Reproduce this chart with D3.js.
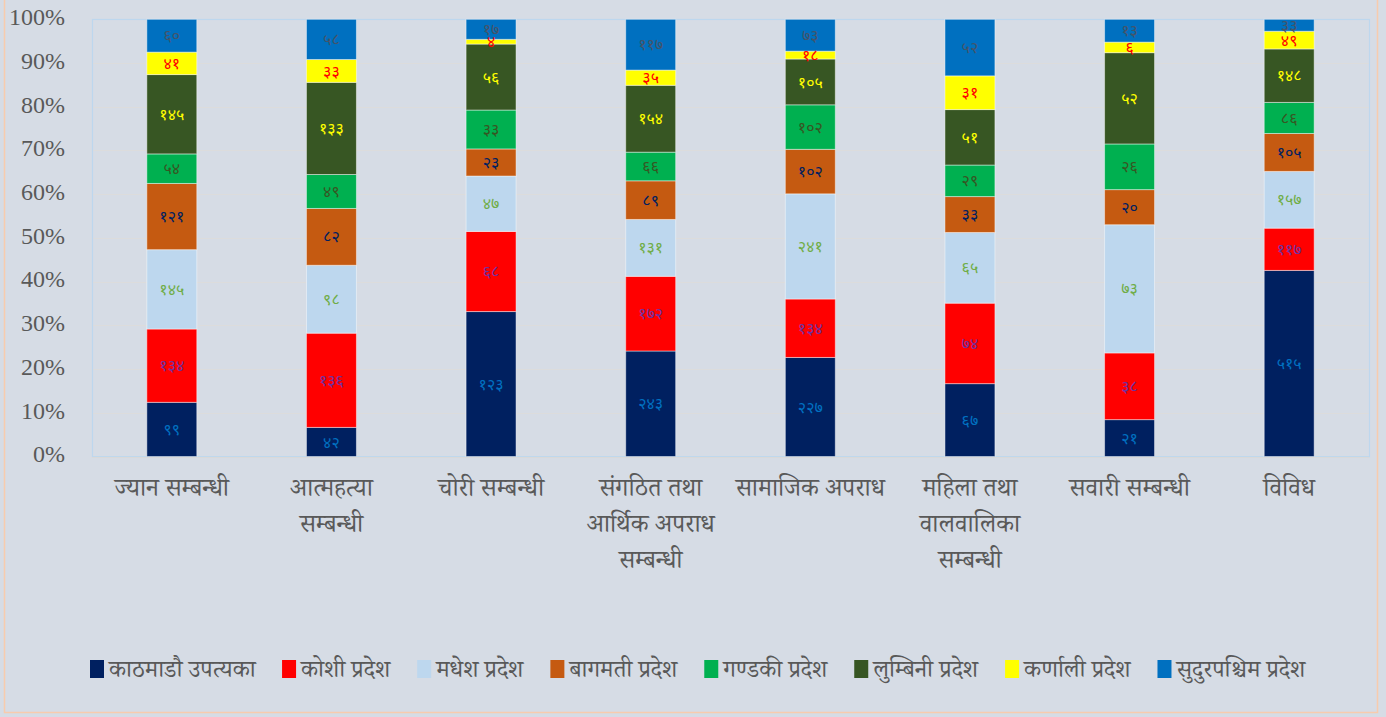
<!DOCTYPE html>
<html>
<head>
<meta charset="utf-8">
<script src="https://cdn.jsdelivr.net/npm/d3@7"></script>
<style>
  html, body { margin: 0; padding: 0; background: #D6DCE5; }
  svg { display: block; }
</style>
</head>
<body>
<svg id="chart" width="1386" height="717"></svg>
<script>
// ---- Data ----
const categories = ["ज्यान सम्बन्धी", "आत्महत्या सम्बन्धी", "चोरी सम्बन्धी", "संगठित तथा आर्थिक अपराध सम्बन्धी", "सामाजिक अपराध", "महिला तथा वालवालिका सम्बन्धी", "सवारी सम्बन्धी", "विविध"];
const categoryLines = [["ज्यान सम्बन्धी"], ["आत्महत्या", "सम्बन्धी"], ["चोरी सम्बन्धी"], ["संगठित तथा", "आर्थिक अपराध", "सम्बन्धी"], ["सामाजिक अपराध"], ["महिला तथा", "वालवालिका", "सम्बन्धी"], ["सवारी सम्बन्धी"], ["विविध"]];
const seriesNames = ["काठमाडौ उपत्यका", "कोशी प्रदेश", "मधेश प्रदेश", "बागमती प्रदेश", "गण्डकी प्रदेश", "लुम्बिनी प्रदेश", "कर्णाली प्रदेश", "सुदुरपश्चिम प्रदेश"];
const kathmandu    = [99, 42, 123, 243, 227, 67, 21, 515];
const koshi        = [134, 136, 68, 172, 134, 74, 38, 117];
const madhesh      = [145, 98, 47, 131, 241, 65, 73, 157];
const bagmati      = [121, 82, 23, 89, 102, 33, 20, 105];
const gandaki      = [54, 49, 33, 66, 102, 29, 26, 86];
const lumbini      = [145, 133, 56, 154, 105, 51, 52, 148];
const karnali      = [41, 33, 4, 35, 18, 31, 6, 49];
const sudurpaschim = [60, 58, 17, 117, 73, 52, 13, 33];
const yTicks = [0, 0.1, 0.2, 0.3, 0.4, 0.5, 0.6, 0.7, 0.8, 0.9, 1.0];

const seriesValues = [kathmandu, koshi, madhesh, bagmati, gandaki, lumbini, karnali, sudurpaschim];
const fillColors  = ["#002060", "#FF0000", "#BDD7EE", "#C55A11", "#00B050", "#375623", "#FFFF00", "#0070C0"];
const labelColors = ["#0070C0", "#7030A0", "#70AD47", "#002060", "#375623", "#FFFF00", "#FF0000", "#44546A"];

const devFont = "'Noto Serif Devanagari', 'Noto Sans Devanagari', 'Lohit Devanagari', 'Noto Sans', sans-serif";
const numFont = "'Noto Sans Devanagari', 'Lohit Devanagari', 'Noto Sans', sans-serif";

// ---- Build table ----
const rows = categories.map((c, i) => {
  const r = { cat: c };
  seriesNames.forEach((s, j) => r[s] = seriesValues[j][i]);
  return r;
});
const stack = d3.stack().keys(seriesNames).offset(d3.stackOffsetExpand);
const stacked = stack(rows);

const svg = d3.select("#chart");
const W = 1386, H = 717;

// background + frame
svg.append("rect").attr("x", 0).attr("y", 0).attr("width", W).attr("height", H).attr("fill", "#D6DCE5");
svg.append("rect").attr("x", 4.5).attr("y", -2).attr("width", 1373).attr("height", 714.5)
  .attr("fill", "none").attr("stroke", "#F8CBAD").attr("stroke-width", 1.5);

const plot = { left: 92, right: 1369, top: 19.3, bottom: 456.5 };

const x = d3.scaleBand().domain(categories).range([plot.left, plot.right])
  .paddingInner(0.687).paddingOuter(0.3435);
const y = d3.scaleLinear().domain([0, 1]).range([plot.bottom, plot.top]);

// gridlines
svg.append("g").selectAll("line").data(yTicks.filter(t => t > 0 && t < 1)).join("line")
  .attr("x1", plot.left).attr("x2", plot.right)
  .attr("y1", d => Math.round(y(d)) + 0.5).attr("y2", d => Math.round(y(d)) + 0.5)
  .attr("stroke", "#DCDCDC").attr("stroke-width", 1.2);

// plot border
svg.append("rect").attr("x", plot.left + 0.5).attr("y", Math.round(plot.top) + 0.5)
  .attr("width", plot.right - plot.left).attr("height", plot.bottom - plot.top)
  .attr("fill", "none").attr("stroke", "#BDD7EE").attr("stroke-width", 1.2);
svg.append("line").attr("x1", plot.left).attr("x2", plot.right)
  .attr("y1", Math.round(plot.bottom) + 0.5).attr("y2", Math.round(plot.bottom) + 0.5)
  .attr("stroke", "#D9D9D9").attr("stroke-width", 1.2);

// y axis
const yAxis = d3.axisLeft(y).tickValues(yTicks).tickFormat(d3.format(".0%")).tickSize(0).tickPadding(0);
const yg = svg.append("g").attr("transform", `translate(65,0)`).call(yAxis);
yg.select(".domain").remove();
yg.selectAll("text").attr("font-family", "'Liberation Serif', 'Times New Roman', serif")
  .attr("font-size", 24).attr("fill", "#595959").attr("dy", "0.22em").attr("dx", 0);

// bars
const layers = svg.append("g").selectAll("g").data(stacked).join("g")
  .attr("fill", (d, i) => fillColors[i]);
layers.selectAll("rect").data(d => d).join("rect")
  .attr("x", d => x(d.data.cat))
  .attr("width", x.bandwidth())
  .attr("y", d => y(d[1]))
  .attr("height", d => y(d[0]) - y(d[1]))
  .attr("stroke", "rgba(255,255,255,0.45)")
  .attr("stroke-width", 1);

// value labels
const toDev = n => String(n).replace(/[0-9]/g, c => "०१२३४५६७८९"[+c]);
const lab = svg.append("g").selectAll("g").data(stacked).join("g")
  .attr("fill", (d, i) => labelColors[i]);
lab.selectAll("text").data(d => d.map(p => ({ p, key: d.key }))).join("text")
  .attr("x", d => x(d.p.data.cat) + x.bandwidth() / 2)
  .attr("y", d => (y(d.p[0]) + y(d.p[1])) / 2)
  .attr("dy", "0.35em")
  .attr("text-anchor", "middle")
  .attr("font-family", numFont)
  .attr("font-size", 16)
  .text(d => toDev(d.p.data[d.key]));

// x labels
const xl = svg.append("g").selectAll("text").data(categories).join("text")
  .attr("x", d => x(d) + x.bandwidth() / 2)
  .attr("y", 496)
  .attr("text-anchor", "middle")
  .attr("font-family", devFont)
  .attr("font-size", 25)
  .attr("fill", "#595959");
xl.selectAll("tspan").data((d, i) => categoryLines[i]).join("tspan")
  .attr("x", function () { return this.parentNode.getAttribute("x"); })
  .attr("dy", (d, i) => i === 0 ? 0 : 36)
  .text(d => d);

// legend
const leg = svg.append("g");
const items = leg.selectAll("g").data(seriesNames).join("g");
items.append("rect").attr("width", 14).attr("height", 18).attr("y", -9)
  .attr("fill", (d, i) => fillColors[i]);
items.append("text").attr("x", 19).attr("y", 0).attr("dy", "0.32em")
  .attr("font-family", devFont).attr("font-size", 24).attr("fill", "#595959")
  .text(d => d);
const widths = [];
items.each(function () { widths.push(this.getBBox().width); });
const startX = 90, endX = 1307;
const gap = Math.max(10, (endX - startX - d3.sum(widths)) / (widths.length - 1));
let cx = startX;
items.attr("transform", (d, i) => {
  const t = `translate(${cx},669)`;
  cx += widths[i] + gap;
  return t;
});
</script>
</body>
</html>
